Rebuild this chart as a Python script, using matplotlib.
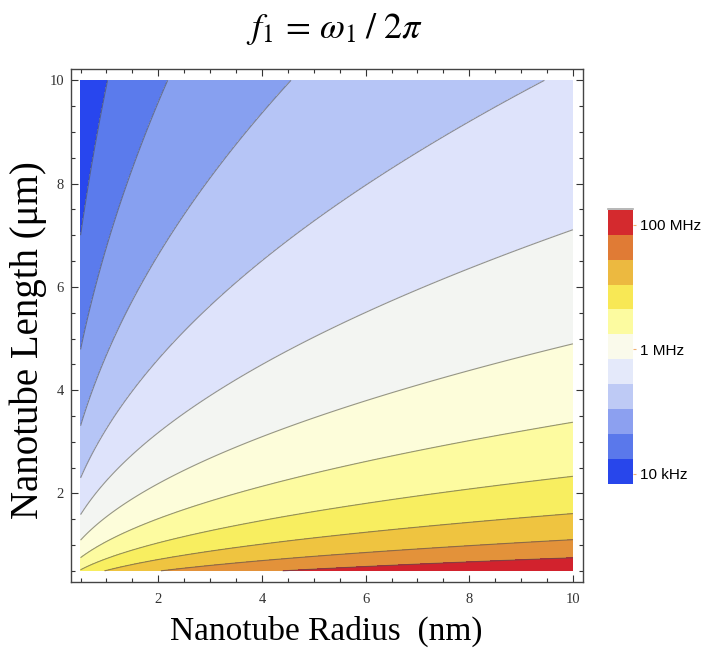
import matplotlib
matplotlib.use('Agg')

import matplotlib.pyplot as plt
import numpy as np
from matplotlib.colors import ListedColormap
from matplotlib.ticker import MultipleLocator

# nanotube radius (nm) and length (um) ranges
radius_range = [0.5, 10.0]
length_range = [0.5, 10.0]

# first flexural mode: f1 = k * R / L^2   (k in Hz*um^2/nm)
freq_const = 1.0e6

# contour levels (Hz)
levels_hz = [1.02e4, 2.18e4, 4.56e4, 9.45e4, 1.98e5, 4.17e5,
             8.76e5, 1.84e6, 3.86e6, 8.2e6, 1.76e7]

# fill colours of the bands, low -> high frequency
band_colors = ['#2846ee', '#5b7bec', '#87a0f0', '#b6c5f6', '#dee3fb', '#f3f5f2',
               '#fdfdda', '#fdfba0', '#f8ee60', '#efc440', '#e3923a', '#d2222d']

# legend bar, bottom -> top
legend_colors = ['#2846eb', '#5a78eb', '#8ca0f0', '#becaf5', '#e4e9fa', '#fafaeb',
                 '#fcfba0', '#f8e855', '#ecb940', '#e07b35', '#d42a2e']
legend_labels = ['10 kHz', '1 MHz', '100 MHz']
legend_label_band = [0, 5, 10]

serif = ['Liberation Serif', 'DejaVu Serif']
plt.rcParams['mathtext.fontset'] = 'stix'

R = np.linspace(radius_range[0], radius_range[1], 500)
L = np.linspace(length_range[0], length_range[1], 500)
RR, LL = np.meshgrid(R, L)
f1 = freq_const * RR / LL**2

fig = plt.figure(figsize=(7.28, 6.55), dpi=100)
ax = fig.add_axes([0.0975, 0.1119, 0.703, 0.782])

fill_levels = [f1.min() * 0.99] + levels_hz + [f1.max() * 1.01]
ax.contourf(RR, LL, f1, levels=fill_levels, colors=band_colors)
ax.contour(RR, LL, f1, levels=levels_hz, colors='#505050', linewidths=0.8, alpha=0.6)

ax.set_xlim(0.315, 10.19)
ax.set_ylim(0.29, 10.21)
ax.xaxis.set_major_locator(MultipleLocator(2))
ax.yaxis.set_major_locator(MultipleLocator(2))
ax.xaxis.set_minor_locator(MultipleLocator(0.5))
ax.yaxis.set_minor_locator(MultipleLocator(0.5))
ax.tick_params(which='both', direction='in', top=True, right=True, color='#333333', width=0.8)
ax.tick_params(which='major', length=5)
ax.tick_params(which='minor', length=3)
ax.tick_params(axis='x', which='major', pad=8)
ax.tick_params(axis='y', which='major', pad=5)
for lab in ax.get_xticklabels() + ax.get_yticklabels():
    lab.set_fontfamily(serif)
    lab.set_fontsize(10.5)
    lab.set_color('#333333')
for s in ax.spines.values():
    s.set_color('#444444')
    s.set_linewidth(1.0)

fig.text(0.4485, 0.036, 'Nanotube Radius  (nm)', family=serif, fontsize=24,
         ha='center', va='center')
fig.text(0.0385, 0.481, 'Nanotube Length (\u03bcm)', family=serif, fontsize=28,
         rotation=90, ha='center', va='center')
fig.text(0.4595, 0.955, r'$f_1\,=\,\omega_1\;/\;2\pi$', fontsize=26,
         ha='center', va='center')

# legend bar
cax = fig.add_axes([0.8356, 0.2617, 0.0343, 0.4177])
nb = len(legend_colors)
cax.pcolormesh([0, 1], np.arange(nb + 1), np.arange(nb).reshape(-1, 1),
               cmap=ListedColormap(legend_colors), shading='flat')
cax.set_xlim(0, 1)
cax.set_ylim(0, nb)
cax.set_xticks([])
for s in cax.spines.values():
    s.set_visible(False)
cax.axhline(nb + 0.05, color='#aaaaaa', lw=1.2, clip_on=False)
cax.yaxis.tick_right()
cax.set_yticks([b + 0.4 for b in legend_label_band])
cax.set_yticklabels(legend_labels, family=['Liberation Sans', 'DejaVu Sans'], fontsize=11)
cax.tick_params(axis='y', length=2, color='#f0b070', pad=3)

fig.savefig('out.png', dpi=100)
